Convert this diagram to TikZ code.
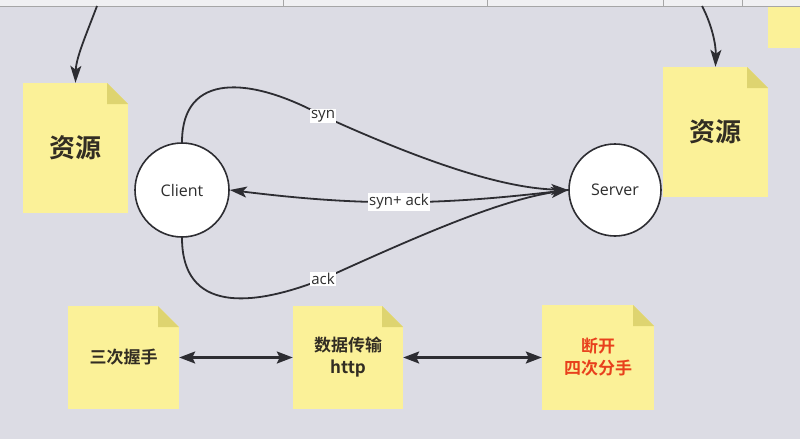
\documentclass[tikz,border=0pt]{standalone}
\usepackage{fontspec}
\setmainfont{Open Sans}
\newfontfamily\cjk[BoldFont={Noto Sans CJK SC Bold}]{Noto Sans CJK SC}
\usepackage{tikz}
\usetikzlibrary{positioning}
\usetikzlibrary{arrows.meta}
\usetikzlibrary{calc}

\begin{document}
\begin{tikzpicture}[x=1pt,y=-1pt,
		note/.style={rectangle, fill=noteyel, inner sep=0pt, align=center, text=notetxt,
			path picture={
				\fill[bggray] (path picture bounding box.north east) -- ++(-21pt,0pt) -- ++(21pt,-21pt) -- cycle;
				\fill[notefold] (path picture bounding box.north east) ++(-21pt,0pt) -- ++(21pt,-21pt) -- ++(-21pt,0pt) -- cycle;}},
		bigtxt/.style={font=\cjk\bfseries\fontsize{26pt}{30pt}\selectfont},
		smalltxt/.style={font=\cjk\bfseries\fontsize{17pt}{22pt}\selectfont},
		peer/.style={circle, draw=linec, line width=1.6pt, fill=white, minimum size=94pt, inner sep=0pt, text=txtc, font=\fontsize{16pt}{18pt}\selectfont},
		lbl/.style={fill=white, inner sep=1.5pt, text=txtc, font=\fontsize{15pt}{17pt}\selectfont},
		arr/.style={draw=linec, line width=1.8pt, -{Stealth[length=17pt,width=11pt,inset=4pt]}},
		darr/.style={draw=linec, line width=2.4pt, {Stealth[length=16pt,width=12pt,inset=3pt]}-{Stealth[length=16pt,width=12pt,inset=3pt]}}]
				\definecolor{bggray}{RGB}{220,220,228}
				\definecolor{stripc}{RGB}{240,240,242}
				\definecolor{noteyel}{RGB}{251,241,152}
				\definecolor{notefold}{RGB}{222,212,112}
				\definecolor{notetxt}{RGB}{50,45,35}
				\definecolor{notered}{RGB}{232,64,28}
				\definecolor{linec}{RGB}{45,45,50}
				\definecolor{txtc}{RGB}{45,45,45}
				\useasboundingbox (0,0) rectangle (800,439);
				\fill[bggray] (0,0) rectangle (800,439);
				\fill[stripc] (0,0) rectangle (800,6);
				\draw[gray!70, line width=0.8pt] (0,6) -- (800,6);
				\foreach \sx in {283,487,663,742}
					\draw[gray!70, line width=0.8pt] (\sx,0) -- (\sx,6);
				\fill[noteyel] (768,7) rectangle (800,48);
				
				\node[note, bigtxt, minimum width=105pt, minimum height=130pt] (resL) at (75.5,148) {资源};
				\node[note, bigtxt, minimum width=105pt, minimum height=130pt] (resR) at (715.5,132) {资源};
				
				\node[peer] (client) at (182,190) {Client};
				\node[peer, minimum size=92pt] (server) at (615,190) {Server};
				
				\node[note, smalltxt, minimum width=111pt, minimum height=103pt] (shake) at (123.5,357.5) {三次握手};
				\node[note, smalltxt, minimum width=110pt, minimum height=103pt] (data) at (348,357.5) {数据传输\\http};
				\node[note, smalltxt, text=notered, minimum width=112pt, minimum height=105pt] (close) at (598,357.5) {断开\\四次分手};
				
				\coordinate (topL) at (97,6);
				\coordinate (topR) at (702,6);
				\draw[arr] (topL) .. controls (86,35) and (76,58) .. (resL.north);
				\draw[arr] (topR) .. controls (712,25) and (716,45) .. (resR.north);
				
				\draw[arr] (client.north) .. controls (182,72) and (250,76) .. (323,116) node[lbl] (synl) {syn}
					.. controls (420,160) and (500,188) .. (server.west);
				\draw[arr] (server.west) to[bend left=7] node[lbl] (synackl) {syn+ ack} (client.east);
				\draw[arr] (client.south) .. controls (182,312) and (250,308) .. (323,279) node[lbl] (ackl) {ack}
					.. controls (420,235) and (500,200) .. (server.west);
				
				\draw[darr] (shake.east) -- (data.west);
				\draw[darr] (data.east) -- (close.west);
			\end{tikzpicture}
\end{document}
